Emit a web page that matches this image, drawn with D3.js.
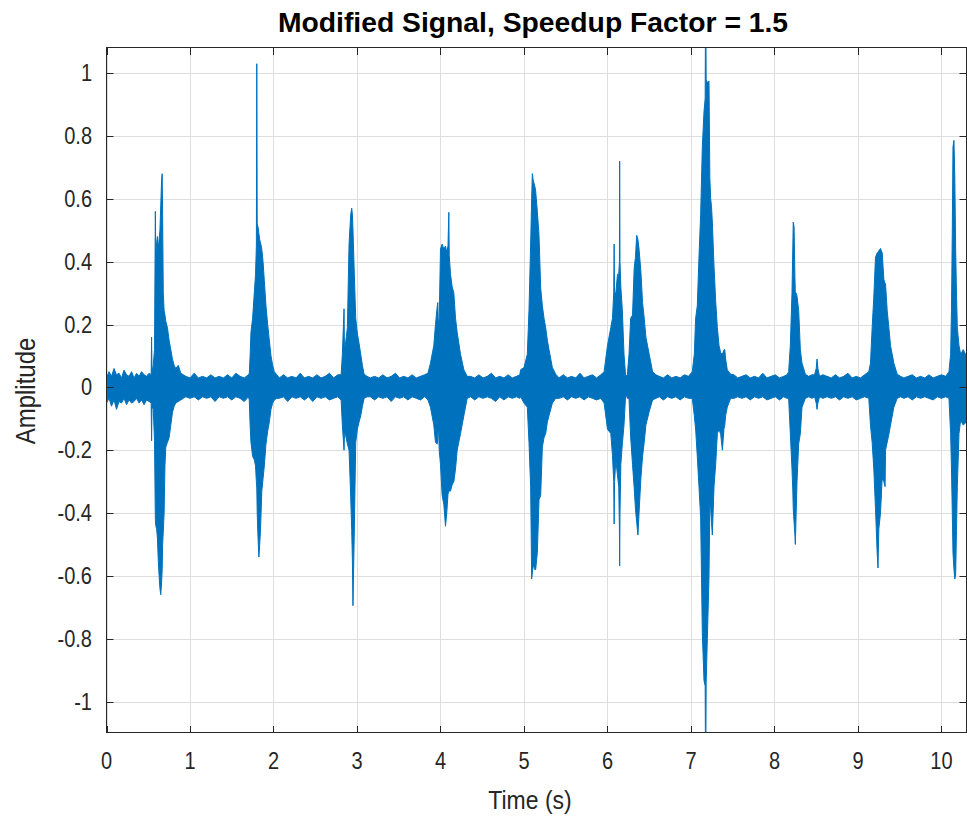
<!DOCTYPE html>
<html><head><meta charset="utf-8">
<script src="https://cdn.jsdelivr.net/npm/d3@7"></script>
<style>html,body{margin:0;padding:0;background:#fff;overflow:hidden}svg{display:block;font-family:"Liberation Sans",Arial,Helvetica,sans-serif}</style>
</head><body><svg id="chart" width="967" height="819"></svg>
<script>
const titleText = "Modified Signal, Speedup Factor = 1.5";
const xLabelText = "Time (s)";
const yLabelText = "Amplitude";
const xTicks = [0,1,2,3,4,5,6,7,8,9,10];
const xTickLabels = ["0","1","2","3","4","5","6","7","8","9","10"];
const yTicks = [-1,-0.8,-0.6,-0.4,-0.2,0,0.2,0.4,0.6,0.8,1];
const yTickLabels = ["-1","-0.8","-0.6","-0.4","-0.2","0","0.2","0.4","0.6","0.8","1"];
const xDomain = [0, 10.3];
const yDomain = [-1.1, 1.08];

// Signal envelope: time (s), max and min amplitude
const timeSec = [
 0,0.03,0.06,0.09,0.12,0.15,0.18,0.21,0.24,0.27,0.30,0.33,0.36,0.39,0.42,0.45,0.48,0.51,
 0.535,0.54,0.545,0.56,0.575,0.585,0.59,0.60,0.61,0.62,0.63,0.64,0.65,0.66,0.667,0.672,0.68,0.69,0.70,0.71,0.73,0.75,0.77,0.79,0.81,0.83,0.86,0.89,0.92,
 0.95,1.0,1.05,1.1,1.15,1.2,1.25,1.3,1.35,1.4,1.45,1.5,1.55,1.6,1.65,1.70,
 1.71,1.72,1.73,1.75,1.77,1.785,1.795,1.80,1.805,1.815,1.825,1.835,1.845,1.86,1.875,1.89,1.91,1.93,1.95,1.97,1.99,2.01,2.04,
 2.07,2.12,2.17,2.22,2.27,2.32,2.37,2.42,2.47,2.52,2.57,2.62,2.67,2.72,2.77,
 2.81,2.825,2.845,2.85,2.86,2.885,2.905,2.925,2.937,2.945,2.952,2.958,2.965,2.985,3.005,3.025,3.045,3.065,3.085,3.12,
 3.16,3.21,3.26,3.31,3.36,3.41,3.46,3.51,3.56,3.61,3.66,3.71,3.76,3.81,3.85,
 3.88,3.92,3.94,3.962,3.968,3.975,3.985,4.00,4.02,4.04,4.06,4.075,4.09,4.10,4.105,4.12,4.14,4.16,4.18,4.20,4.24,4.28,4.32,
 4.36,4.41,4.46,4.51,4.56,4.61,4.66,4.71,4.76,4.81,4.86,4.91,4.95,
 4.96,5.00,5.04,5.06,5.08,5.092,5.10,5.11,5.12,5.13,5.14,5.16,5.18,5.20,5.22,5.24,5.26,5.28,5.30,5.34,5.38,
 5.42,5.47,5.52,5.57,5.62,5.67,5.72,5.77,5.82,5.87,5.92,
 5.96,6.00,6.04,6.06,6.075,6.08,6.085,6.10,6.12,6.135,6.143,6.146,6.15,6.16,6.178,6.198,6.218,6.238,6.258,6.278,6.30,6.32,6.335,6.35,6.365,6.378,6.40,6.42,6.44,6.46,6.50,6.54,6.58,
 6.62,6.67,6.72,6.77,6.82,6.87,6.92,6.97,
 7.016,7.04,7.056,7.076,7.096,7.116,7.136,7.156,7.170,7.176,7.182,7.196,7.216,7.226,7.236,7.246,7.256,7.276,7.296,7.316,7.336,7.356,7.376,7.396,7.405,7.415,7.435,7.475,7.515,
 7.56,7.61,7.66,7.71,7.76,7.81,7.86,7.91,7.96,8.01,8.06,8.11,8.15,
 8.17,8.19,8.21,8.22,8.225,8.235,8.245,8.25,8.26,8.27,8.29,8.31,8.33,8.37,8.41,8.45,8.48,8.50,8.51,8.52,8.54,8.58,
 8.63,8.68,8.73,8.78,8.83,8.88,8.93,8.98,9.03,9.08,
 9.13,9.15,9.17,9.19,9.21,9.23,9.24,9.25,9.27,9.285,9.29,9.31,9.325,9.33,9.35,9.37,9.39,9.43,9.47,9.51,
 9.55,9.60,9.65,9.70,9.75,9.80,9.85,9.90,9.95,10.00,10.05,
 10.09,10.11,10.12,10.13,10.138,10.15,10.16,10.17,10.18,10.19,10.21,10.23,10.26,10.30
];
const envMax = [
 0.03,0.05,0.035,0.06,0.04,0.045,0.03,0.055,0.04,0.035,0.05,0.03,0.045,0.035,0.05,0.04,0.035,0.045,
 0.04,0.16,0.05,0.07,0.12,0.56,0.42,0.46,0.48,0.44,0.47,0.50,0.58,0.66,0.68,0.55,0.30,0.245,0.23,0.21,0.19,0.15,0.12,0.09,0.07,0.06,0.07,0.045,0.04,
 0.035,0.03,0.045,0.03,0.035,0.03,0.04,0.03,0.035,0.03,0.04,0.03,0.045,0.035,0.03,0.04,
 0.045,0.10,0.175,0.22,0.30,0.36,0.45,1.03,0.52,0.51,0.49,0.47,0.46,0.44,0.40,0.34,0.26,0.20,0.15,0.10,0.07,0.05,0.04,
 0.03,0.04,0.03,0.035,0.03,0.045,0.03,0.035,0.03,0.04,0.03,0.035,0.045,0.03,0.04,
 0.04,0.105,0.25,0.12,0.133,0.19,0.456,0.55,0.57,0.55,0.50,0.45,0.386,0.22,0.17,0.14,0.105,0.07,0.042,0.035,
 0.03,0.035,0.03,0.04,0.03,0.035,0.045,0.03,0.035,0.03,0.04,0.03,0.035,0.04,0.045,
 0.077,0.133,0.20,0.26,0.27,0.19,0.22,0.44,0.456,0.44,0.45,0.43,0.45,0.557,0.42,0.36,0.32,0.30,0.22,0.175,0.105,0.056,0.035,
 0.035,0.03,0.04,0.03,0.035,0.045,0.03,0.035,0.03,0.04,0.03,0.035,0.04,
 0.056,0.063,0.105,0.245,0.456,0.60,0.68,0.66,0.65,0.64,0.625,0.56,0.484,0.316,0.26,0.22,0.19,0.15,0.12,0.063,0.042,
 0.03,0.04,0.03,0.035,0.03,0.045,0.03,0.035,0.04,0.03,0.04,
 0.05,0.133,0.19,0.22,0.30,0.456,0.30,0.30,0.36,0.36,0.40,0.72,0.40,0.32,0.245,0.105,0.035,0.04,0.105,0.22,0.23,0.38,0.414,0.484,0.47,0.44,0.37,0.27,0.22,0.16,0.105,0.05,0.04,
 0.035,0.03,0.04,0.03,0.035,0.03,0.04,0.035,
 0.05,0.105,0.22,0.26,0.414,0.55,0.765,0.877,0.92,1.3,0.98,0.97,0.975,0.667,0.60,0.575,0.526,0.386,0.274,0.19,0.133,0.11,0.105,0.12,0.12,0.09,0.056,0.042,0.04,
 0.03,0.035,0.04,0.03,0.035,0.03,0.045,0.03,0.035,0.04,0.03,0.035,0.04,
 0.05,0.133,0.30,0.45,0.526,0.51,0.35,0.30,0.30,0.29,0.245,0.12,0.077,0.042,0.035,0.04,0.04,0.06,0.09,0.06,0.035,0.04,
 0.035,0.03,0.04,0.03,0.035,0.045,0.03,0.035,0.03,0.04,
 0.05,0.077,0.19,0.288,0.414,0.428,0.43,0.435,0.442,0.43,0.43,0.344,0.33,0.33,0.245,0.19,0.133,0.077,0.042,0.035,
 0.03,0.035,0.04,0.03,0.035,0.03,0.04,0.03,0.035,0.04,0.035,
 0.05,0.105,0.245,0.50,0.765,0.786,0.667,0.442,0.30,0.19,0.133,0.105,0.12,0.10
];
const envMin = [
 -0.05,-0.035,-0.06,-0.04,-0.07,-0.045,-0.05,-0.035,-0.055,-0.04,-0.05,-0.045,-0.035,-0.05,-0.04,-0.055,-0.04,-0.045,
 -0.05,-0.17,-0.06,-0.07,-0.17,-0.42,-0.44,-0.45,-0.48,-0.55,-0.60,-0.64,-0.66,-0.62,-0.58,-0.50,-0.46,-0.40,-0.25,-0.19,-0.175,-0.16,-0.12,-0.08,-0.06,-0.05,-0.045,-0.04,-0.035,
 -0.03,-0.035,-0.03,-0.04,-0.03,-0.035,-0.03,-0.045,-0.03,-0.035,-0.03,-0.04,-0.03,-0.035,-0.045,-0.03,
 -0.04,-0.12,-0.175,-0.22,-0.23,-0.25,-0.30,-0.32,-0.40,-0.48,-0.54,-0.50,-0.45,-0.33,-0.29,-0.25,-0.18,-0.14,-0.11,-0.07,-0.05,-0.04,-0.035,
 -0.035,-0.03,-0.045,-0.03,-0.035,-0.03,-0.04,-0.03,-0.045,-0.03,-0.035,-0.03,-0.04,-0.035,-0.03,
 -0.04,-0.12,-0.20,-0.15,-0.147,-0.18,-0.20,-0.35,-0.456,-0.55,-0.695,-0.60,-0.50,-0.175,-0.133,-0.11,-0.09,-0.06,-0.035,-0.03,
 -0.03,-0.04,-0.03,-0.035,-0.03,-0.045,-0.03,-0.035,-0.03,-0.04,-0.03,-0.035,-0.04,-0.03,-0.04,
 -0.063,-0.12,-0.175,-0.18,-0.15,-0.12,-0.20,-0.245,-0.344,-0.372,-0.442,-0.40,-0.34,-0.33,-0.33,-0.33,-0.31,-0.30,-0.26,-0.20,-0.147,-0.09,-0.035,
 -0.03,-0.04,-0.03,-0.035,-0.03,-0.035,-0.045,-0.03,-0.04,-0.03,-0.035,-0.03,-0.035,
 -0.03,-0.05,-0.063,-0.175,-0.316,-0.61,-0.59,-0.57,-0.57,-0.58,-0.58,-0.526,-0.358,-0.344,-0.19,-0.16,-0.147,-0.11,-0.09,-0.05,-0.035,
 -0.035,-0.03,-0.04,-0.03,-0.035,-0.03,-0.04,-0.03,-0.035,-0.04,-0.035,
 -0.05,-0.133,-0.147,-0.217,-0.30,-0.435,-0.30,-0.23,-0.28,-0.316,-0.45,-0.568,-0.40,-0.245,-0.18,-0.12,-0.02,-0.035,-0.035,-0.16,-0.245,-0.32,-0.386,-0.43,-0.47,-0.40,-0.29,-0.22,-0.175,-0.12,-0.077,-0.04,-0.035,
 -0.03,-0.04,-0.03,-0.035,-0.03,-0.04,-0.03,-0.035,
 -0.035,-0.09,-0.133,-0.22,-0.316,-0.414,-0.78,-0.933,-0.95,-1.3,-0.94,-0.80,-0.60,-0.372,-0.386,-0.43,-0.47,-0.316,-0.245,-0.147,-0.133,-0.15,-0.20,-0.13,-0.12,-0.09,-0.063,-0.035,-0.035,
 -0.03,-0.035,-0.03,-0.04,-0.03,-0.035,-0.03,-0.04,-0.035,-0.03,-0.04,-0.03,-0.035,
 -0.035,-0.147,-0.26,-0.33,-0.386,-0.43,-0.47,-0.50,-0.40,-0.30,-0.18,-0.147,-0.063,-0.035,-0.03,-0.035,-0.03,-0.05,-0.07,-0.05,-0.03,-0.035,
 -0.03,-0.035,-0.03,-0.04,-0.03,-0.035,-0.03,-0.04,-0.035,-0.03,
 -0.035,-0.12,-0.175,-0.26,-0.386,-0.526,-0.575,-0.45,-0.40,-0.316,-0.29,-0.30,-0.316,-0.20,-0.175,-0.15,-0.12,-0.063,-0.035,-0.03,
 -0.035,-0.03,-0.04,-0.03,-0.035,-0.03,-0.035,-0.04,-0.03,-0.035,-0.03,
 -0.035,-0.147,-0.26,-0.40,-0.526,-0.58,-0.61,-0.596,-0.456,-0.316,-0.147,-0.105,-0.12,-0.11
];

const L = 106.5, R = 966.5, T = 48, B = 733;
const x = d3.scaleLinear().domain(xDomain).range([L, R]);
const y = d3.scaleLinear().domain(yDomain).range([B, T]);
const svg = d3.select("#chart");
const px = v => Math.round(v) + 0.5;

svg.append("defs").append("clipPath").attr("id", "plotclip")
  .append("rect").attr("x", L).attr("y", T).attr("width", R - L).attr("height", B - T);

// grid
const grid = svg.append("g").attr("stroke", "#dedede").attr("stroke-width", 1);
grid.selectAll(".gx").data(xTicks).join("line").attr("class", "gx")
  .attr("x1", d => px(x(d))).attr("x2", d => px(x(d))).attr("y1", T).attr("y2", B);
grid.selectAll(".gy").data(yTicks).join("line").attr("class", "gy")
  .attr("y1", d => px(y(d))).attr("y2", d => px(y(d))).attr("x1", L).attr("x2", R);

// signal
const n = Math.min(timeSec.length, envMax.length, envMin.length);
const pts = d3.range(n).map(i => ({ t: timeSec[i], hi: envMax[i], lo: envMin[i] }));
const area = d3.area().x(d => x(d.t)).y0(d => y(d.lo)).y1(d => y(d.hi)).curve(d3.curveLinear);
svg.append("path").datum(pts).attr("clip-path", "url(#plotclip)").attr("d", area)
  .attr("fill", "#0072BD").attr("stroke", "#0072BD").attr("stroke-width", 1);

// axes box and ticks
const ax = svg.append("g").attr("stroke", "#262626").attr("stroke-width", 1).attr("fill", "none");
ax.append("rect").attr("x", px(L) - 1).attr("y", px(T) - 1).attr("width", R - L).attr("height", B - T);
const tl = 7;
xTicks.forEach(d => {
  const xx = px(x(d));
  ax.append("line").attr("x1", xx).attr("x2", xx).attr("y1", B).attr("y2", B - tl);
  ax.append("line").attr("x1", xx).attr("x2", xx).attr("y1", T).attr("y2", T + tl);
});
yTicks.forEach(d => {
  const yy = px(y(d));
  ax.append("line").attr("y1", yy).attr("y2", yy).attr("x1", L).attr("x2", L + tl);
  ax.append("line").attr("y1", yy).attr("y2", yy).attr("x1", R).attr("x2", R - tl);
});

function label(xp, yp, txt, o) {
  const g = svg.append("g").attr("transform", `translate(${xp},${yp})${o.rot ? " rotate(" + o.rot + ")" : ""} scale(1,${o.sy || 1})`);
  g.append("text").attr("text-anchor", o.anchor || "middle").attr("dy", "0.35em")
    .attr("font-size", o.size).attr("font-weight", o.weight || "normal")
    .attr("fill", o.fill || "#262626").text(txt);
}
xTicks.forEach((d, i) => label(x(d), 761, xTickLabels[i], { size: 20, sy: 1.15 }));
yTicks.forEach((d, i) => label(92, y(d), yTickLabels[i], { size: 20, sy: 1.15, anchor: "end" }));
label(533, 22, titleText, { size: 28.3, weight: "bold", fill: "#000", sy: 1.0 });
label(530, 800, xLabelText, { size: 23, sy: 1.15 });
label(25, 391, yLabelText, { size: 24, sy: 1.15, rot: -90 });
</script></body></html>
